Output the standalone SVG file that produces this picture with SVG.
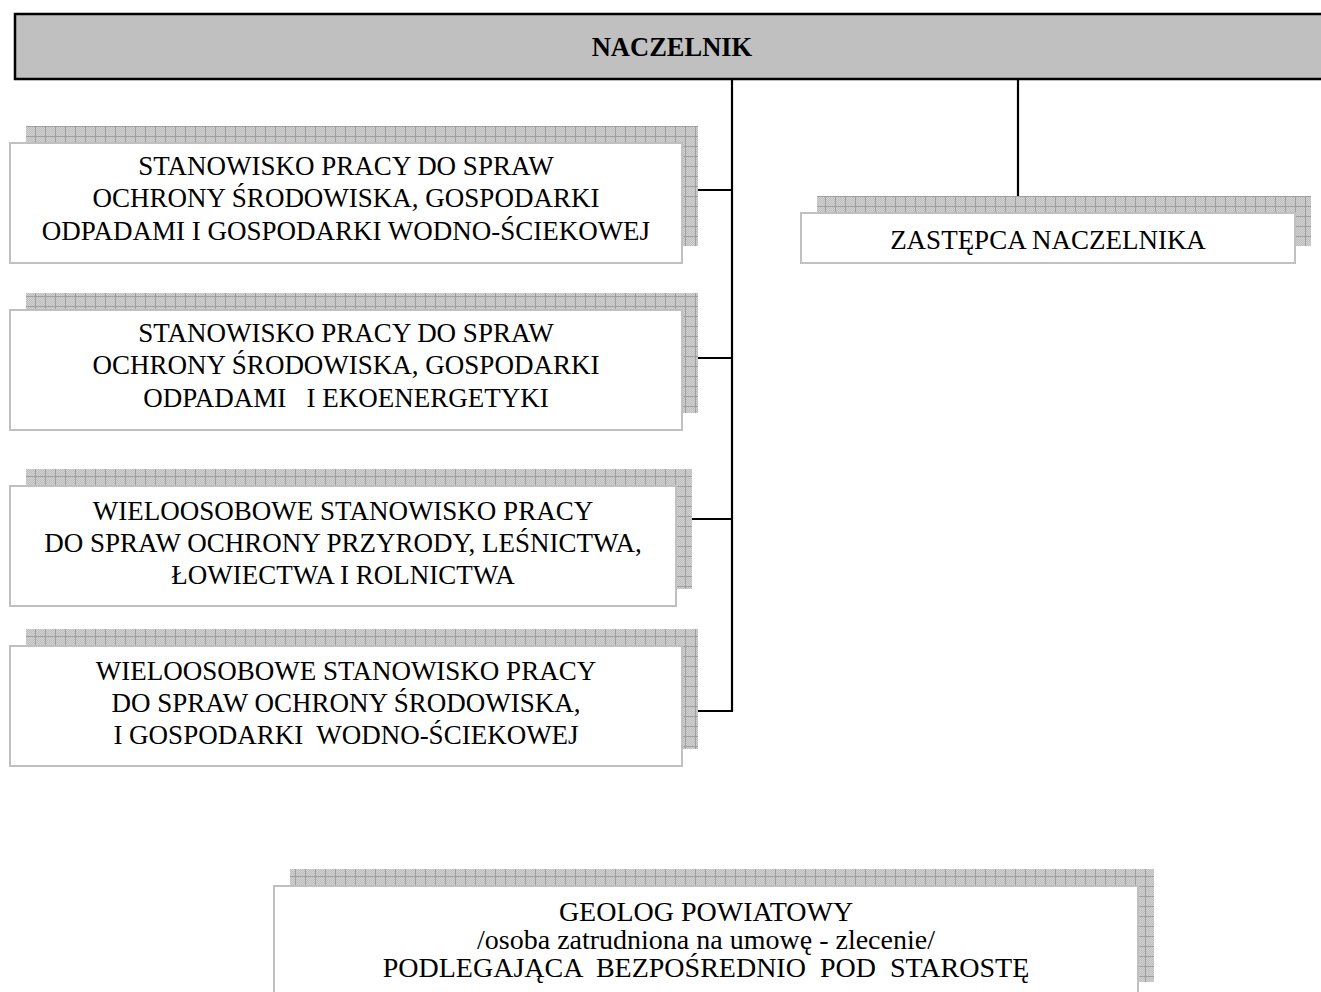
<svg xmlns="http://www.w3.org/2000/svg" width="1321" height="992" viewBox="0 0 1321 992">
<style>
.bx{fill:#fff;stroke:#c0c0c0;stroke-width:2}
.sh{fill:url(#grid)}
.t{font-family:"Liberation Serif","Times New Roman",serif;font-size:27px;fill:#000;text-anchor:middle;white-space:pre}
.tb{font-weight:bold;font-size:26.5px}
.tg{font-size:28px}
.cn{stroke:#000;stroke-width:2.2;fill:none}
</style>
<defs>
<pattern id="dots" width="2" height="2" patternUnits="userSpaceOnUse">
<rect width="2" height="2" fill="#d2d2d2"/>
<rect width="1" height="1" fill="#bdbdbd"/>
<rect x="1" y="1" width="1" height="1" fill="#bdbdbd"/>
</pattern>
<pattern id="grid" width="10" height="10" patternUnits="userSpaceOnUse" x="5" y="6">
<rect width="10" height="10" fill="url(#dots)"/>
<rect width="10" height="1" fill="#a0a0a0"/>
<rect width="1" height="10" fill="#a0a0a0"/>
</pattern>
</defs>
<g id="naczelnik">
<rect x="15" y="14" width="1320" height="65" fill="#c0c0c0" stroke="#000" stroke-width="2.5"/>
<text class="t tb" x="672" y="56">NACZELNIK</text>
</g>
<g id="connectors">
<path class="cn" d="M732 79 V711 H682"/>
<path class="cn" d="M682 190 H732"/>
<path class="cn" d="M682 358 H732"/>
<path class="cn" d="M676 519 H732"/>
<path class="cn" d="M1018 79 V200"/>
</g>
<g id="node1">
<rect class="sh" x="26" y="126" width="672" height="120"/>
<rect class="bx" x="10" y="143" width="672" height="120"/>
<text class="t" x="346" y="175">STANOWISKO PRACY DO SPRAW</text>
<text class="t" x="346" y="207">OCHRONY ŚRODOWISKA, GOSPODARKI</text>
<text class="t" x="346" y="240">ODPADAMI I GOSPODARKI WODNO-ŚCIEKOWEJ</text>
</g>
<g id="node2">
<rect class="sh" x="26" y="293" width="672" height="120"/>
<rect class="bx" x="10" y="310" width="672" height="120"/>
<text class="t" x="346" y="342">STANOWISKO PRACY DO SPRAW</text>
<text class="t" x="346" y="374">OCHRONY ŚRODOWISKA, GOSPODARKI</text>
<text class="t" x="346" y="407">ODPADAMI   I EKOENERGETYKI</text>
</g>
<g id="node3">
<rect class="sh" x="26" y="469" width="666" height="120"/>
<rect class="bx" x="10" y="486" width="666" height="120"/>
<text class="t" x="343" y="520">WIELOOSOBOWE STANOWISKO PRACY</text>
<text class="t" x="343" y="552">DO SPRAW OCHRONY PRZYRODY, LEŚNICTWA,</text>
<text class="t" x="343" y="584">ŁOWIECTWA I ROLNICTWA</text>
</g>
<g id="node4">
<rect class="sh" x="26" y="629" width="672" height="120"/>
<rect class="bx" x="10" y="646" width="672" height="120"/>
<text class="t" x="346" y="680">WIELOOSOBOWE STANOWISKO PRACY</text>
<text class="t" x="346" y="712">DO SPRAW OCHRONY ŚRODOWISKA,</text>
<text class="t" x="346" y="744">I GOSPODARKI  WODNO-ŚCIEKOWEJ</text>
</g>
<g id="zastepca">
<rect class="sh" x="817" y="196" width="494" height="50"/>
<rect class="bx" x="801" y="213" width="494" height="50"/>
<text class="t" x="1048" y="249">ZASTĘPCA NACZELNIKA</text>
</g>
<g id="geolog">
<rect class="sh" x="290" y="869" width="864" height="113"/>
<rect class="bx" x="274" y="886" width="864" height="130"/>
<text class="t tg" x="706" y="921">GEOLOG POWIATOWY</text>
<text class="t tg" x="706" y="949">/osoba zatrudniona na umowę - zlecenie/</text>
<text class="t tg" x="706" y="977">PODLEGAJĄCA  BEZPOŚREDNIO  POD  STAROSTĘ</text>
</g>
</svg>
